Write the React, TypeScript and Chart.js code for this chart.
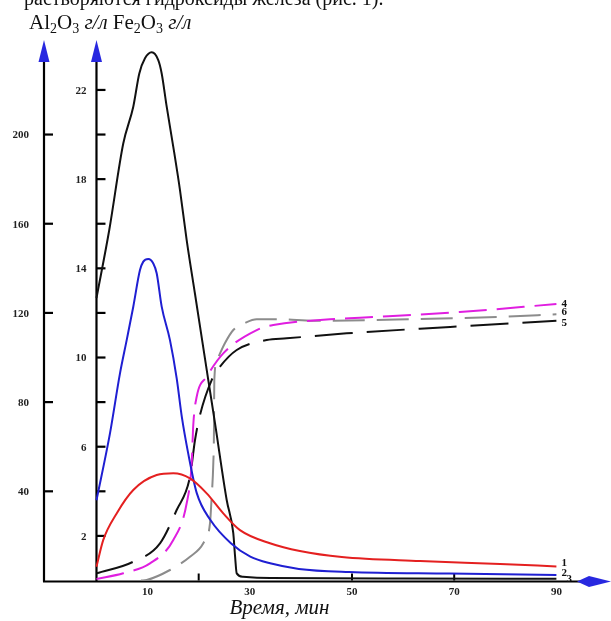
import React, { useEffect, useRef } from "react";
import { Chart, registerables } from "chart.js";

Chart.register(...registerables);

// ---- axis ranges / ticks ----
const timeMin = -10.27;
const timeMax = 98.53;
const alMax = 242.4;
const feMax = 24.24;

const timeTickLabels = [10, 30, 50, 70, 90];
const timeTickMarks = [20, 50, 70];
const alTicks = [40, 80, 120, 160, 200];
const feTickMarks = [2, 4, 6, 8, 10, 12, 14, 16, 18, 20, 22];
const feTickLabels = [2, 6, 10, 14, 18, 22];

const topText = "растворяются гидроксиды железа (рис. 1).";
const xTitle = "Время, мин";
const curveLabels = ["1", "2", "3", "4", "5", "6"];

// ---- series (time, min) ----
// 1 – red, Fe2O3
const curve1Time = [0, 1.33, 3.95, 7.2, 11.78, 15.03, 18.3, 21.57, 24.81, 28.08, 33.95, 39.8, 48.0, 63.3, 79.0, 90.0];
const curve1Value = [0.62, 1.82, 3.01, 4.06, 4.73, 4.81, 4.58, 3.91, 3.01, 2.26, 1.67, 1.32, 1.05, 0.87, 0.74, 0.63];

// 2 – blue, Fe2O3
const curve2Time = [0, 2.64, 4.6, 5.91, 7.2, 8.51, 9.16, 10.14, 11.12, 11.78, 12.76, 14.38, 15.69, 16.73, 17.9, 19.61, 22.3, 26.3, 30.1, 33.98, 39.6, 49.4, 69.0, 90.0];
const curve2Value = [3.6, 6.6, 9.29, 10.78, 12.28, 13.92, 14.3, 14.42, 14.22, 13.78, 12.28, 10.78, 9.08, 7.29, 5.76, 3.93, 2.71, 1.67, 1.07, 0.77, 0.52, 0.38, 0.31, 0.25];

// 3 – black solid, Fe2O3
const curve3Time = [0, 2.5, 5.24, 7.2, 8.38, 9.49, 10.8, 12.09, 12.76, 13.74, 15.03, 16.34, 17.65, 19.28, 21.88, 23.19, 25.48, 26.77, 27.1, 27.44, 28.67, 33.95, 60, 90];
const curve3Value = [12.67, 15.72, 19.6, 21.25, 22.74, 23.42, 23.69, 23.34, 22.74, 21.25, 19.45, 17.51, 15.27, 12.85, 8.99, 7.06, 3.61, 2.12, 1.14, 0.32, 0.17, 0.11, 0.09, 0.08];

// 4 – magenta dashed, Al2O3
const curve4Time = [0, 5.24, 10.47, 15.03, 17.65, 18.63, 18.94, 19.61, 21.57, 24.81, 31.35, 34.6, 45.69, 51.56, 71.1, 90];
const curve4Value = [0.67, 3.23, 7.71, 18.16, 34.62, 52.56, 69.73, 82.42, 91.39, 101.88, 112.33, 114.57, 117.13, 117.85, 120.4, 124.0];

// 5 – black dashed, Al2O3
const curve5Time = [0, 7.2, 12.43, 15.69, 18.3, 19.28, 20.25, 22.54, 24.17, 27.44, 33.31, 37.22, 48.96, 69.2, 90];
const curve5Value = [3.23, 8.43, 16.68, 31.61, 46.55, 63.0, 74.2, 89.9, 95.87, 103.36, 107.85, 108.6, 110.85, 113.7, 116.5];

// 6 – gray dashed, Al2O3
const curve6Time = [8.71, 9.82, 14.38, 18.3, 20.9, 22.21, 22.54, 22.86, 22.99, 23.02, 23.06, 23.58, 25.15, 26.77, 29.06, 31.35, 35.91, 42.43, 63.3, 79, 90];
const curve6Value = [0, 0.22, 4.71, 10.67, 16.68, 25.65, 37.58, 52.56, 67.49, 80.94, 89.91, 98.88, 106.5, 112.33, 115.47, 117.13, 117.13, 116.5, 117.3, 118.2, 119.4];

const pts = (t: number[], v: number[]) => t.map((x, i) => ({ x, y: v[i] }));

const SERIF = "'Liberation Serif', 'Times New Roman', serif";
const ARROW_BLUE = "#2828e0";

// label offsets (dx, dy) for end labels
const labelOffsets: [number, number][] = [
  [5, -3],
  [5, -2],
  [10, 0],
  [5, 0],
  [5, 2],
  [5, -2],
];

const axesPlugin = {
  id: "handAxes",
  beforeDatasetsDraw(chart: any) {
    const ctx = chart.ctx as CanvasRenderingContext2D;
    const xs = chart.scales.x;
    const ya = chart.scales.yAl;
    const yf = chart.scales.yFe;
    const xAl = xs.getPixelForValue(xs.min);
    const xFe = xs.getPixelForValue(0);
    const yBottom = ya.getPixelForValue(0);
    const yTop = ya.getPixelForValue(ya.max);
    const W = chart.width;
    ctx.save();
    ctx.strokeStyle = "#000";
    ctx.lineWidth = 2.2;
    ctx.lineCap = "butt";
    const line = (x1: number, y1: number, x2: number, y2: number) => {
      ctx.beginPath();
      ctx.moveTo(x1, y1);
      ctx.lineTo(x2, y2);
      ctx.stroke();
    };
    // vertical axes
    line(xAl, yBottom + 1, xAl, yTop + 18);
    line(xFe, yBottom + 1, xFe, yTop + 18);
    // horizontal axis
    line(xAl - 1, yBottom + 1, W - 28, yBottom + 1);

    // Al ticks
    ctx.fillStyle = "#222";
    ctx.font = `bold 11px ${SERIF}`;
    ctx.textAlign = "right";
    ctx.textBaseline = "middle";
    alTicks.forEach((v) => {
      const y = ya.getPixelForValue(v);
      line(xAl, y, xAl + 9, y);
      ctx.fillText(String(v), xAl - 15, y + 1);
    });
    // Fe ticks
    feTickMarks.forEach((v) => {
      const y = yf.getPixelForValue(v);
      line(xFe, y, xFe + 9, y);
    });
    feTickLabels.forEach((v) => {
      const y = yf.getPixelForValue(v);
      ctx.fillText(String(v), xFe - 10, y + 1);
    });
    // time ticks
    ctx.lineWidth = 2;
    timeTickMarks.forEach((t) => {
      const x = xs.getPixelForValue(t);
      line(x, yBottom, x, yBottom - 7);
    });
    ctx.textAlign = "center";
    timeTickLabels.forEach((t) => {
      const x = xs.getPixelForValue(t);
      ctx.fillText(String(t), x, yBottom + 12);
    });

    // arrows
    ctx.fillStyle = ARROW_BLUE;
    [xAl, xFe].forEach((x) => {
      ctx.beginPath();
      ctx.moveTo(x, yTop);
      ctx.lineTo(x + 5.5, yTop + 22);
      ctx.lineTo(x - 5.5, yTop + 22);
      ctx.closePath();
      ctx.fill();
    });
    ctx.beginPath();
    ctx.moveTo(W - 34, yBottom + 1);
    ctx.lineTo(W - 22, yBottom - 4.5);
    ctx.lineTo(W, yBottom + 1);
    ctx.lineTo(W - 22, yBottom + 6.5);
    ctx.closePath();
    ctx.fill();
    ctx.restore();
  },
  afterDraw(chart: any) {
    const ctx = chart.ctx as CanvasRenderingContext2D;
    const xs = chart.scales.x;
    const ya = chart.scales.yAl;
    const yBottom = ya.getPixelForValue(0);
    ctx.save();
    ctx.fillStyle = "#111";
    ctx.textBaseline = "alphabetic";
    ctx.textAlign = "left";

    // clipped document line at top
    ctx.font = `20px ${SERIF}`;
    ctx.fillText(topText, 24, 5);

    // header: Al2O3 г/л Fe2O3 г/л
    const big = `21px ${SERIF}`;
    const sub = `14px ${SERIF}`;
    const ital = `italic 21px ${SERIF}`;
    const parts: [string, string, number][] = [
      ["Al", big, 0], ["2", sub, 4], ["O", big, 0], ["3", sub, 4],
      [" г/л ", ital, 0],
      ["Fe", big, 0], ["2", sub, 4], ["O", big, 0], ["3", sub, 4],
      [" г/л", ital, 0],
    ];
    let x = 29;
    const baseY = 29;
    parts.forEach(([s, f, dy]) => {
      ctx.font = f;
      ctx.fillText(s, x, baseY + dy);
      x += ctx.measureText(s).width;
    });

    // x title
    ctx.font = `italic 21px ${SERIF}`;
    ctx.textAlign = "center";
    ctx.fillText(xTitle, xs.getPixelForValue(35.8), yBottom + 33);

    // curve end labels
    ctx.font = `bold 11px ${SERIF}`;
    ctx.textAlign = "left";
    ctx.textBaseline = "middle";
    chart.data.datasets.forEach((ds: any, i: number) => {
      const meta = chart.getDatasetMeta(i);
      const last = meta.data[meta.data.length - 1];
      const [dx, dy] = labelOffsets[i];
      ctx.fillText(curveLabels[i], last.x + dx, last.y + dy);
    });
    ctx.restore();
  },
};

export default function App() {
  const ref = useRef<HTMLCanvasElement>(null);
  useEffect(() => {
    if (!ref.current) return;
    const common = { pointRadius: 0, borderWidth: 2, cubicInterpolationMode: "monotone" as const, fill: false };
    const chart = new Chart(ref.current, {
      type: "line",
      data: {
        datasets: [
          { ...common, label: "1", data: pts(curve1Time, curve1Value), borderColor: "#e42020", yAxisID: "yFe" },
          { ...common, label: "2", data: pts(curve2Time, curve2Value), borderColor: "#1f1fd2", yAxisID: "yFe" },
          { ...common, label: "3", data: pts(curve3Time, curve3Value), borderColor: "#111111", yAxisID: "yFe" },
          { ...common, label: "4", data: pts(curve4Time, curve4Value), borderColor: "#e01ee0", borderDash: [28, 10], yAxisID: "yAl" },
          { ...common, label: "5", data: pts(curve5Time, curve5Value), borderColor: "#111111", borderDash: [38, 14], yAxisID: "yAl" },
          { ...common, label: "6", data: pts(curve6Time, curve6Value), borderColor: "#8c8c8c", borderDash: [32, 12], yAxisID: "yAl" },
        ],
      },
      options: {
        animation: false,
        responsive: false,
        devicePixelRatio: 1,
        layout: { padding: { left: 44, right: 11, top: 40, bottom: 40.5 } },
        plugins: { legend: { display: false }, tooltip: { enabled: false } },
        scales: {
          x: { type: "linear", min: timeMin, max: timeMax, display: false },
          yAl: { type: "linear", min: 0, max: alMax, display: false },
          yFe: { type: "linear", min: 0, max: feMax, display: false },
        },
      },
      plugins: [axesPlugin],
    });
    return () => chart.destroy();
  }, []);
  return (
    <div style={{ position: "fixed", left: 0, top: 0, width: 611, height: 621, background: "#fff" }}>
      <canvas ref={ref} width={611} height={621} style={{ display: "block" }} />
    </div>
  );
}
